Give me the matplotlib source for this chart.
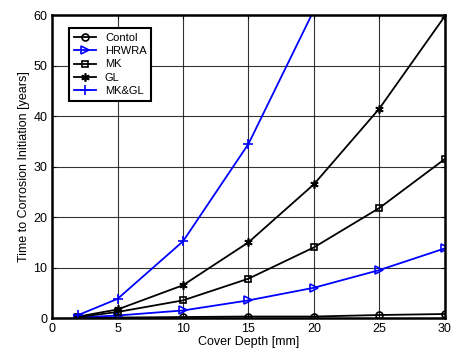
import matplotlib
matplotlib.use('Agg')
import matplotlib.pyplot as plt

plt.rcParams['font.family'] = ['Liberation Sans', 'DejaVu Sans']

# cover depth [mm]
depth = [2, 5, 10, 15, 20, 25, 30]
# time to corrosion initiation [years]
contol = [0.05, 0.1, 0.2, 0.3, 0.3, 0.6, 0.8]
hrwra = [0.1, 0.5, 1.5, 3.5, 6.0, 9.5, 13.8]
mk = [0.2, 1.2, 3.5, 7.8, 14.0, 21.8, 31.5]
gl = [0.3, 1.7, 6.5, 15.0, 26.5, 41.5, 59.8]
mkgl_depth = [2, 5, 10, 15, 20]
mkgl = [0.6, 3.8, 15.2, 34.5, 61.0]

fig = plt.figure(figsize=(4.53, 3.61), dpi=100)
ax = fig.add_axes([0.115, 0.119, 0.867, 0.839])

ax.plot(depth, contol, color='black', marker='o', mfc='none', ms=5, mew=1.2, lw=1.3, label='Contol')
ax.plot(depth, hrwra, color='blue', marker='>', mfc='none', ms=6, mew=1.2, lw=1.3, label='HRWRA')
ax.plot(depth, mk, color='black', marker='s', mfc='none', ms=5, mew=1.2, lw=1.3, label='MK')
ax.plot(depth, gl, color='black', marker=(6, 2, 0), ms=6, mew=1.2, lw=1.3, label='GL')
ax.plot(mkgl_depth, mkgl, color='blue', marker='+', ms=7, mew=1.2, lw=1.3, label='MK&GL')

ax.set_xlim(0, 30)
ax.set_ylim(0, 60)
ax.set_xticks([0, 5, 10, 15, 20, 25, 30])
ax.set_yticks([0, 10, 20, 30, 40, 50, 60])
ax.grid(True, color='black', lw=0.8, alpha=0.8)
ax.tick_params(labelsize=9, direction='in', length=3, top=True, right=True)
for s in ax.spines.values():
    s.set_linewidth(1.8)

ax.set_xlabel('Cover Depth [mm]', fontsize=9, labelpad=1)
ax.set_ylabel('Time to Corrosion Initiation [years]', fontsize=9, labelpad=2)

leg = ax.legend(loc='upper left', fontsize=8, fancybox=False, framealpha=1,
                edgecolor='black', borderpad=0.4, labelspacing=0.3,
                handlelength=2.0, bbox_to_anchor=(0.03, 0.975))
leg.get_frame().set_linewidth(1.5)

fig.savefig('out.png', dpi=100)
